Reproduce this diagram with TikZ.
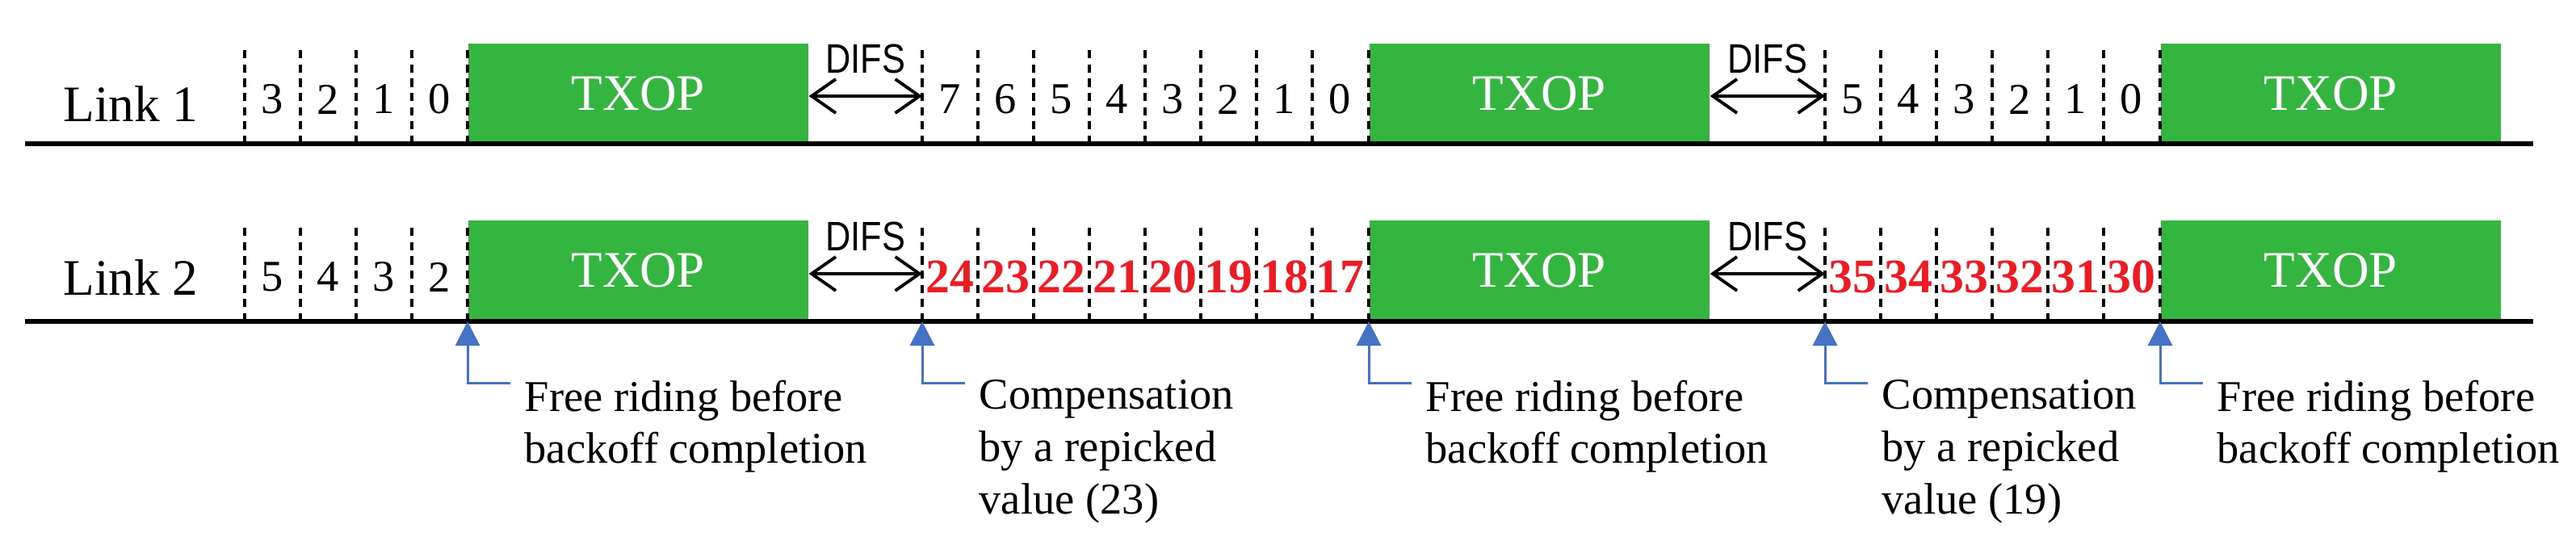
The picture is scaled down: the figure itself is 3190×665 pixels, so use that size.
\documentclass[tikz,border=0pt]{standalone}
\usepackage{fontspec}
\usepackage{graphicx}
\setmainfont{Liberation Serif}
\newfontfamily\difsfont{Liberation Sans}
\usetikzlibrary{arrows.meta}
\definecolor{txopgreen}{HTML}{33B540}
\definecolor{markblue}{HTML}{4472C4}
\definecolor{cntred}{HTML}{ED1C24}
\tikzset{
  link_node/.style = {inner sep=0pt, font=\fontsize{18}{20}\selectfont},
  txop_node/.style = {rectangle, fill=txopgreen, text=white, inner sep=0pt, anchor=south west,
                      minimum width=4.21cm, minimum height=1.23cm, font=\fontsize{18}{20}\selectfont},
  cnt_node/.style = {inner sep=0pt, font=\fontsize{15.5}{17}\selectfont},
  red_node/.style = {inner sep=0pt, text=cntred, font=\bfseries\fontsize{17}{19}\selectfont},
  slot_line/.style = {line width=1pt, dash pattern=on 2.9pt off 2.1pt},
  base_line/.style = {line width=1.7pt},
  difs_arrow/.style = {line width=1.1pt, {Straight Barb[length=0.3cm,width=0.42cm]}-{Straight Barb[length=0.3cm,width=0.42cm]}},
  difs_node/.style = {inner sep=0pt, font=\difsfont\fontsize{14.5}{16}\selectfont},
  mark_node/.style = {inner sep=0pt, align=left, anchor=north west, font=\fontsize{15.5}{18.4}\selectfont},
  mark_arrow/.style = {markblue, line width=0.85pt, -{Triangle[length=0.3cm,width=0.3cm]}, shorten <=0.17cm},
}
\newcommand\difs{\scalebox{0.85}[1]{DIFS}}
% #1 row, #2 start x, #3 baseline y, #4 counter values, #5 style
\newcommand\slotrow[5]{%
  \foreach \n [count=\i from 0] in {#4} {
    \node[#5] (cnt-#1-#2-\i) at (#2+69*\i+34.5, #3-55) {\n};
    \draw[slot_line] (#2+69*\i, #3) -- ++(0,-117);
  }
}
\begin{document}
\begin{tikzpicture}[x=0.01cm, y=-0.01cm]
\useasboundingbox (0,0) rectangle (3190,665);

% link 1
\node[link_node] (link1) at (162,129) {Link 1};
\slotrow{1}{303}{178}{3,2,1,0}{cnt_node}
\slotrow{1}{1142}{178}{7,6,5,4,3,2,1,0}{cnt_node}
\slotrow{1}{2260}{178}{5,4,3,2,1,0}{cnt_node}
\node[txop_node] (t11) at (579,178) {TXOP};
\node[txop_node] (t12) at (1695,178) {TXOP};
\node[txop_node] (t13) at (2675,178) {TXOP};
\foreach \a in {579,1695,2675}
  \draw[slot_line] (\a,178) -- ++(0,-117);
\draw[base_line] (31,178) -- (3137,178);
\coordinate (d11) at (1142,119);
\coordinate (d12) at (2260,119);
\draw[difs_arrow] (t11.east |- d11) -- (d11) node[difs_node, midway, yshift=0.46cm] (difs11) {\difs};
\draw[difs_arrow] (t12.east |- d12) -- (d12) node[difs_node, midway, yshift=0.46cm] (difs12) {\difs};

% link 2
\node[link_node] (link2) at (162,344) {Link 2};
\slotrow{2}{303}{398}{5,4,3,2}{cnt_node}
\slotrow{2}{1142}{398}{24,23,22,21,20,19,18,17}{red_node}
\slotrow{2}{2260}{398}{35,34,33,32,31,30}{red_node}
\node[txop_node, minimum height=1.24cm] (t21) at (579,398) {TXOP};
\node[txop_node, minimum height=1.24cm] (t22) at (1695,398) {TXOP};
\node[txop_node, minimum height=1.24cm] (t23) at (2675,398) {TXOP};
\foreach \a in {579,1695,2675}
  \draw[slot_line] (\a,398) -- ++(0,-117);
\draw[base_line] (31,398) -- (3137,398);
\coordinate (d21) at (1142,339);
\coordinate (d22) at (2260,339);
\draw[difs_arrow] (t21.east |- d21) -- (d21) node[difs_node, midway, yshift=0.46cm] (difs21) {\difs};
\draw[difs_arrow] (t22.east |- d22) -- (d22) node[difs_node, midway, yshift=0.46cm] (difs22) {\difs};

% annotations
\node[mark_node] (m1) at (649,470) {Free riding before\\backoff completion};
\node[mark_node] (m2) at (1212,470) {Compensation\\by a repicked\\value (23)};
\node[mark_node] (m3) at (1765,470) {Free riding before\\backoff completion};
\node[mark_node] (m4) at (2330,470) {Compensation\\by a repicked\\value (19)};
\node[mark_node] (m5) at (2745,470) {Free riding before\\backoff completion};
\coordinate (p1) at (579,398);
\coordinate (p2) at (1142,398);
\coordinate (p3) at (1695,398);
\coordinate (p4) at (2260,398);
\coordinate (p5) at (2675,398);
\foreach \i in {1,...,5}
  \draw[mark_arrow] (m\i.west |- 0,475) -| (p\i);
\end{tikzpicture}
\end{document}
